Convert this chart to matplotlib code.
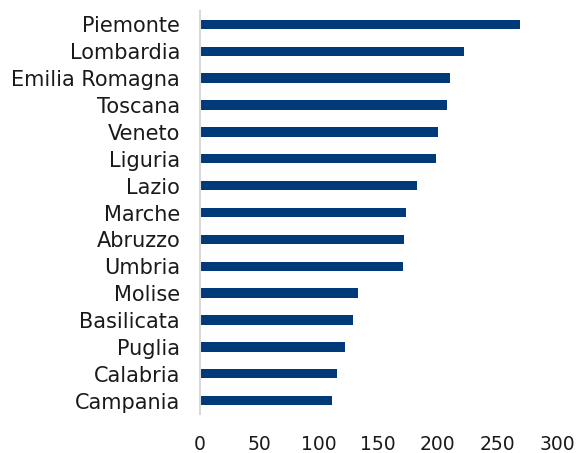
import matplotlib
matplotlib.use("Agg")
import matplotlib.pyplot as plt

regions = [
    "Piemonte", "Lombardia", "Emilia Romagna", "Toscana", "Veneto",
    "Liguria", "Lazio", "Marche", "Abruzzo", "Umbria",
    "Molise", "Basilicata", "Puglia", "Calabria", "Campania",
]
values = [269, 222, 210.5, 208, 200, 198.7, 182.5, 173.5, 171.3, 170.5,
          133.3, 129, 122.3, 115.7, 111]
x_ticks = [0, 50, 100, 150, 200, 250, 300]

BAR_COLOR = "#003A78"
TEXT_COLOR = "#1A1A1A"

plt.rcParams["font.family"] = ["DejaVu Sans"]

fig = plt.figure(figsize=(5.77, 4.53), dpi=100)
ax = fig.add_axes([0.3458, 0.086, 0.6195, 0.8897])

y = list(range(len(regions)))
ax.barh(y, values, height=0.35, color=BAR_COLOR)
ax.set_yticks(y)
ax.set_yticklabels(regions)
ax.set_ylim(len(regions) - 0.5, -0.5)
ax.set_xlim(0, 300)
ax.set_xticks(x_ticks)
ax.set_xticklabels([str(t) for t in x_ticks])

for side in ("top", "right", "bottom"):
    ax.spines[side].set_visible(False)
ax.spines["left"].set_color("#D9D9D9")
ax.spines["left"].set_linewidth(1.5)

ax.tick_params(axis="both", length=0, labelcolor=TEXT_COLOR)
ax.tick_params(axis="y", pad=14, labelsize=15)
ax.tick_params(axis="x", pad=15, labelsize=13.5)

fig.savefig("out.png", dpi=100)
